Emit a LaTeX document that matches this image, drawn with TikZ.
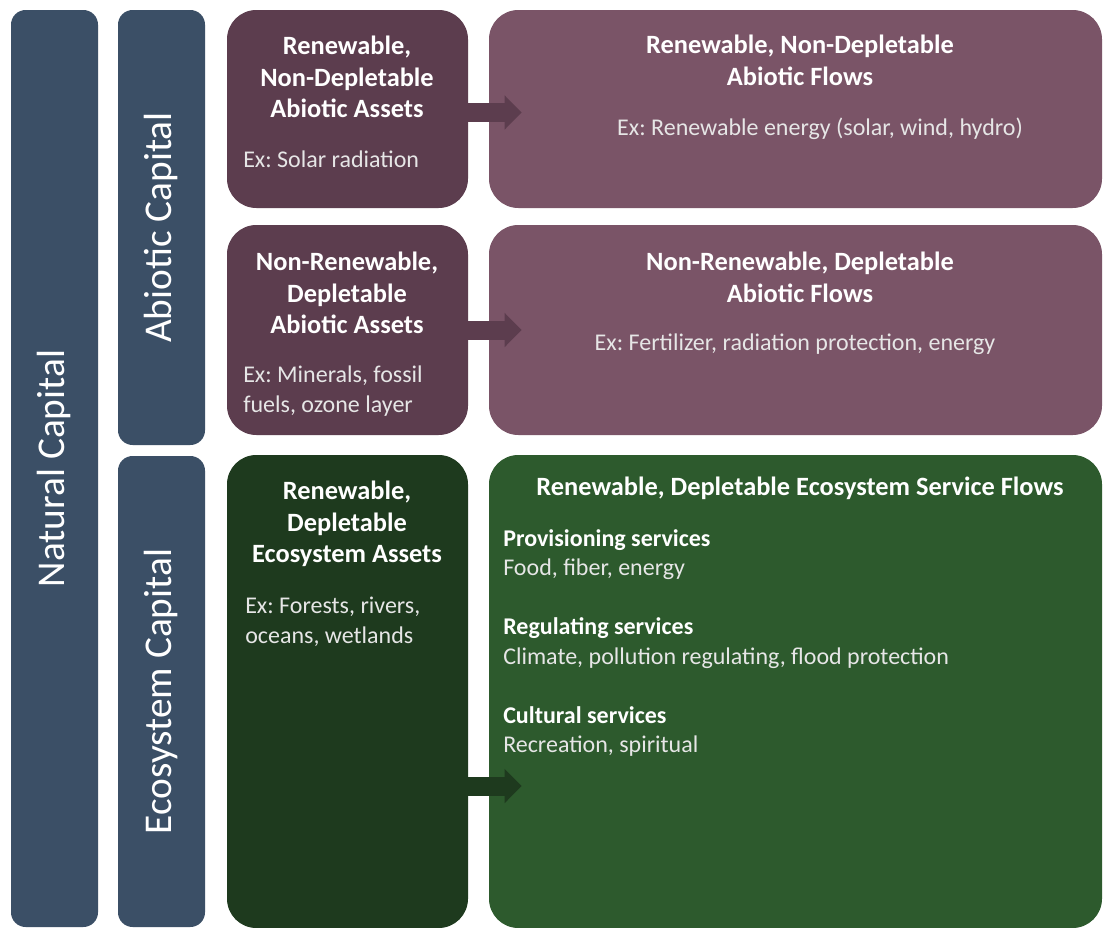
\documentclass[tikz,border=0pt]{standalone}
\usepackage{fontspec}
\setmainfont{Carlito}
\frenchspacing
\usetikzlibrary{arrows.meta,calc}
\definecolor{capblue}{HTML}{3B4F66}
\definecolor{assetpurple}{HTML}{5C3D4E}
\definecolor{flowpurple}{HTML}{7A5467}
\definecolor{assetgreen}{HTML}{1E3A1E}
\definecolor{flowgreen}{HTML}{2D5A2D}
\definecolor{bodytext}{HTML}{E6E6E6}
\begin{document}
\begin{tikzpicture}[x=0.75pt,y=-0.75pt,
  capbar/.style={fill=capblue, draw=none, rounded corners=11pt, inner sep=0pt},
  bigbox/.style={draw=none, rounded corners=22pt, inner sep=0pt},
  vlabel/.style={text=white, rotate=90, font=\fontsize{29.5}{31}\selectfont, inner sep=0pt},
  boxtitle/.style={text=white, align=center, font=\bfseries\fontsize{19.8}{23.8}\selectfont, inner sep=0pt},
  boxbody/.style={text=bodytext, align=left, font=\fontsize{18}{22.4}\selectfont, inner sep=0pt},
  flowarrow/.style={line width=14.25pt, -{Triangle[length=12.75pt, width=24.75pt]}}
]
\clip (0,0) rectangle (1104,928);
\useasboundingbox (0,0) rectangle (1104,928);
\fill[white] (0,0) rectangle (1104,928);

% capital bars
\node[capbar, minimum width=87*0.75pt, minimum height=917*0.75pt] (natural) at (54.5,468.5) {};
\node[capbar, minimum width=87*0.75pt, minimum height=435*0.75pt] (abiotic) at (161.5,227.5) {};
\node[capbar, minimum width=87*0.75pt, minimum height=471*0.75pt] (ecosys) at (161.5,691.5) {};
\node[vlabel] (natlbl) at (natural.center) {Natural Capital};
\node[vlabel] (ablbl) at (abiotic.center) {Abiotic Capital};
\node[vlabel] (ecolbl) at (ecosys.center) {Ecosystem Capital};

% asset boxes
\node[bigbox, fill=assetpurple, minimum width=241*0.75pt, minimum height=198*0.75pt] (a1) at (347.5,109) {};
\node[bigbox, fill=assetpurple, minimum width=241*0.75pt, minimum height=210*0.75pt] (a2) at (347.5,330) {};
\node[bigbox, fill=assetgreen, minimum width=241*0.75pt, minimum height=473*0.75pt] (e1) at (347.5,691.5) {};

% flow boxes
\node[bigbox, fill=flowpurple, minimum width=613*0.75pt, minimum height=198*0.75pt] (f1) at (795.5,109) {};
\node[bigbox, fill=flowpurple, minimum width=613*0.75pt, minimum height=210*0.75pt] (f2) at (795.5,330) {};
\node[bigbox, fill=flowgreen, minimum width=613*0.75pt, minimum height=473*0.75pt] (g1) at (795.5,691.5) {};

% arrows
\draw[flowarrow, assetpurple] ($(a1.east)+(-2,3.5)$) -- ($(f1.west |- a1.east)+(33,3.5)$);
\draw[flowarrow, assetpurple] ($(a2.east)+(-2,0)$) -- ($(f2.west |- a2.east)+(33,0)$);
\draw[flowarrow, assetgreen] ($(e1.east)+(-2,94.5)$) -- ($(g1.west |- e1.east)+(33,94.5)$);

% asset texts
\node[boxtitle] (a1t) at (347,77) {Renewable,\\Non-Depletable\\Abiotic Assets};
\node[boxbody, anchor=west] (a1b) at (243,159) {Ex: Solar radiation};
\node[boxtitle] (a2t) at (347,293) {Non-Renewable,\\Depletable\\Abiotic Assets};
\node[boxbody, anchor=west] (a2b) at (243,391) {Ex: Minerals, fossil\\fuels, ozone layer};
\node[boxtitle] (e1t) at (347,524) {Renewable,\\Depletable\\Ecosystem Assets};
\node[boxbody, anchor=west] (e1b) at (245,622) {Ex: Forests, rivers,\\oceans, wetlands};

% flow texts
\node[boxtitle] (f1t) at (800,60) {Renewable, Non-Depletable\\Abiotic Flows};
\node[boxbody] (f1b) at (820,129) {Ex: Renewable energy (solar, wind, hydro)};
\node[boxtitle] (f2t) at (800,277) {Non-Renewable, Depletable\\Abiotic Flows};
\node[boxbody] (f2b) at (795,344) {Ex: Fertilizer, radiation protection, energy};
\node[boxtitle] (g1t) at (800,488) {Renewable, Depletable Ecosystem Service Flows};
\node[boxbody, anchor=west, font=\fontsize{18}{22.1}\selectfont] (g1b) at (503,643) {%
  \textbf{\color{white}Provisioning services}\\Food, fiber, energy\\[22.1pt]
  \textbf{\color{white}Regulating services}\\Climate, pollution regulating, flood protection\\[22.1pt]
  \textbf{\color{white}Cultural services}\\Recreation, spiritual};
\end{tikzpicture}
\end{document}
